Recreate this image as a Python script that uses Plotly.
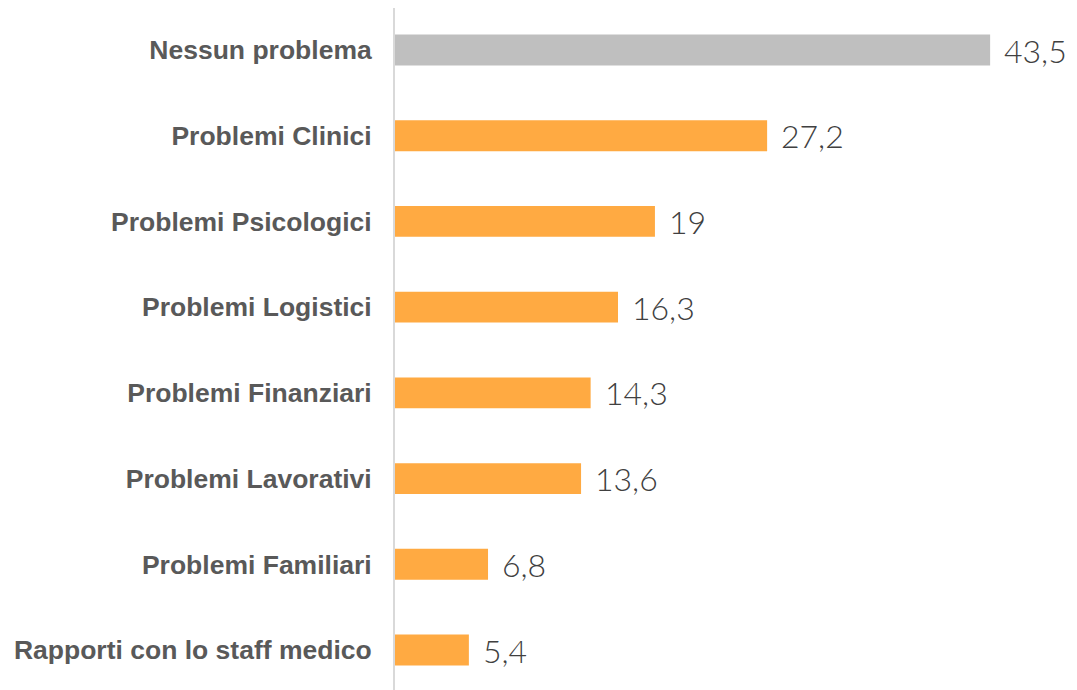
import plotly.graph_objects as go

categories = [
    "Nessun problema",
    "Problemi Clinici",
    "Problemi Psicologici",
    "Problemi Logistici",
    "Problemi Finanziari",
    "Problemi Lavorativi",
    "Problemi Familiari",
    "Rapporti con lo staff medico",
]
values = [43.5, 27.2, 19, 16.3, 14.3, 13.6, 6.8, 5.4]
value_labels = ["43,5", "27,2", "19", "16,3", "14,3", "13,6", "6,8", "5,4"]
bar_colors = ["#BFBFBF"] + ["#FFAA42"] * 7

fig = go.Figure()
fig.add_trace(go.Bar(
    x=values,
    y=categories,
    orientation="h",
    marker=dict(color=bar_colors, line=dict(width=0)),
    width=0.36,
    hoverinfo="skip",
))

for v, c, t in zip(values, categories, value_labels):
    fig.add_annotation(
        x=v, y=c, text=t, showarrow=False,
        xanchor="left", yanchor="middle", xshift=12,
        font=dict(family="Lato", size=32, color="#404040", weight=300),
    )

fig.update_layout(
    width=1069, height=690,
    margin=dict(l=387, r=0, t=0, b=0),
    paper_bgcolor="white", plot_bgcolor="white",
    showlegend=False,
    xaxis=dict(range=[0, 49.85], visible=False, showgrid=False, zeroline=False),
    yaxis=dict(
        type="category",
        categoryorder="array", categoryarray=categories,
        range=[7.56, -0.49],
        showline=True, linecolor="#D9D9D9", linewidth=2,
        showgrid=False, zeroline=False, ticks="",
        ticklabelstandoff=16,
        tickfont=dict(family="Liberation Sans, Arial", size=26.5, color="#595959", weight="bold"),
    ),
)

fig.write_html("out.html")
